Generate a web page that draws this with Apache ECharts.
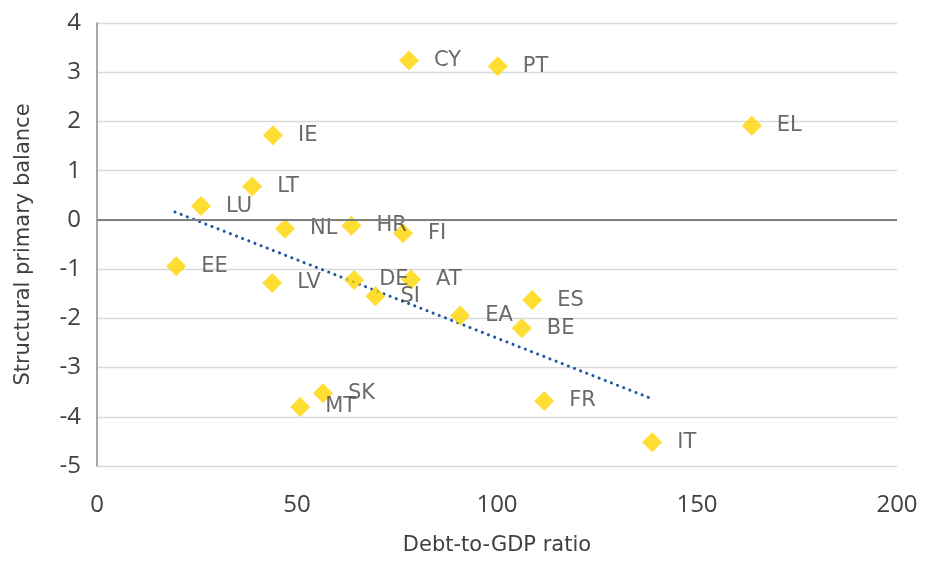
<!DOCTYPE html>
<html><head><meta charset="utf-8">
<script src="https://cdn.jsdelivr.net/npm/echarts@6/dist/echarts.min.js"></script>
<style>html,body{margin:0;padding:0;background:#fff;overflow:hidden}#c{width:929px;height:561px}</style>
</head><body><div id="c"></div>
<script>
var countries = ["CY","PT","EL","IE","LT","LU","NL","HR","FI","EE","LV","DE","AT","SI","EA","ES","BE","SK","MT","FR","IT"];
var debtRatio = [78, 100.2, 163.7, 44, 38.8, 26, 47, 63.6, 76.5, 19.8, 43.8, 64.3, 78.5, 69.6, 90.8, 108.8, 106.2, 56.5, 50.8, 111.8, 138.8];
var primaryBalance = [3.24, 3.12, 1.91, 1.72, 0.68, 0.28, -0.18, -0.12, -0.27, -0.94, -1.28, -1.22, -1.21, -1.55, -1.94, -1.63, -2.2, -3.52, -3.8, -3.68, -4.52];
var trendX = [19.5, 138.6];
var trendY = [0.16, -3.63];
var xTicks = [0, 50, 100, 150, 200];
var yTicks = [-5, -4, -3, -2, -1, 0, 1, 2, 3, 4];

var pts = countries.map(function(c, i){ return {value:[debtRatio[i], primaryBalance[i]], name:c}; });
var trend = trendX.map(function(x, i){ return [x, trendY[i]]; });

var tickFont = "'Open Sans', 'Noto Sans', sans-serif";
var textFont = "'DejaVu Sans', 'Noto Sans', sans-serif";
var chart = echarts.init(document.getElementById('c'));
chart.setOption({
  animation:false,
  grid:{left:97, right:32, top:23, bottom:93},
  xAxis:{type:'value', min:xTicks[0], max:xTicks[xTicks.length-1], interval:50,
    name:'Debt-to-GDP ratio', nameLocation:'middle', nameGap:69,
    nameTextStyle:{color:'#404040', fontSize:21, fontFamily:textFont},
    axisLine:{show:false, onZero:false}, axisTick:{show:false}, splitLine:{show:false},
    axisLabel:{color:'#404040', fontSize:24, fontFamily:tickFont, margin:27}},
  yAxis:{type:'value', min:yTicks[0], max:yTicks[yTicks.length-1], interval:1,
    name:'Structural primary balance', nameLocation:'middle', nameGap:63,
    nameTextStyle:{color:'#404040', fontSize:21, fontFamily:textFont},
    axisLine:{show:true, lineStyle:{color:'#8c8c8c', width:1.5}}, axisTick:{show:false},
    splitLine:{show:true, lineStyle:{color:'#d9d9d9', width:1.3}},
    axisLabel:{color:'#404040', fontSize:24, fontFamily:tickFont, margin:16}},
  series:[
    {type:'line', data:trend, symbol:'none', silent:true, z:1,
     lineStyle:{color:'#1f56a0', width:3, type:[0.1,6.5], cap:'round'},
     markLine:{silent:true, symbol:'none', label:{show:false},
       lineStyle:{color:'#7f7f7f', width:2, type:'solid'}, data:[{yAxis:0}]}},
    {type:'scatter', data:pts, symbol:'diamond', symbolSize:[20,20], z:3,
     itemStyle:{color:'#FFD500'},
     label:{show:true, position:'right', distance:15, formatter:'{b}',
       color:'#454545', fontSize:21, fontFamily:textFont}}
  ]
});
</script></body></html>
